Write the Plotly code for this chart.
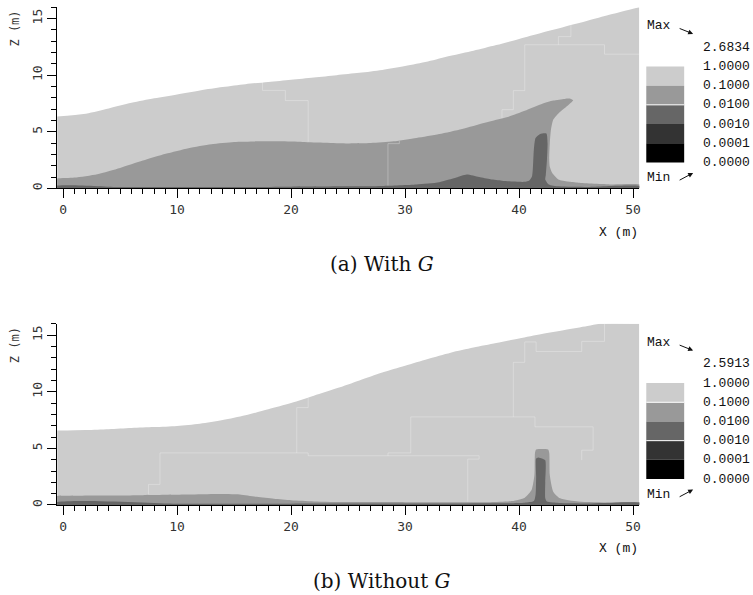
import plotly.graph_objects as go

# ---------------- data ----------------
X_RANGE = [-0.52, 50.55]
Z_RANGE = [0, 16]
X_TICKS = [0, 10, 20, 30, 40, 50]
Z_TICKS = [0, 5, 10, 15]

LEVEL_COLORS = ["#cccccc", "#999999", "#666666", "#333333", "#000000"]
LABELS_A = ["2.6834", "1.0000", "0.1000", "0.0100", "0.0010", "0.0001", "0.0000"]
LABELS_B = ["2.5913", "1.0000", "0.1000", "0.0100", "0.0010", "0.0001", "0.0000"]
SEPARATORS_A = [2]
SEPARATORS_B = [1, 3]
CAPTION_A = "(a) With <i>G</i>"
CAPTION_B = "(b) Without <i>G</i>"

# Panel (a): free surface (outer boundary of the >1.0 band)
A_SURF_X = [-0.52, 2, 4, 6, 8, 10, 12, 14, 16, 18, 20, 22, 24, 26, 28, 30, 32, 34, 36, 38, 40, 42, 44, 46, 48, 50.55]
A_SURF_Z = [6.35, 6.6, 7.05, 7.55, 7.95, 8.3, 8.65, 8.95, 9.2, 9.4, 9.6, 9.8, 10.0, 10.2, 10.45, 10.8, 11.2, 11.7, 12.15, 12.65, 13.2, 13.75, 14.28, 14.8, 15.35, 16.0]
# Panel (a): 0.1 contour (mid grey region, incl. the curling front)
A_MID_X = [-1.0, -1.0, -0.5, 1, 3, 5, 7, 9, 11, 13, 15, 17, 19, 21, 23, 25, 27, 29, 31, 33, 35, 37, 39, 40.5, 42, 43, 44, 44.5, 44.75,
           44.2, 43.5, 43.0, 42.8, 42.7, 42.65, 42.7, 42.9, 43.45, 44.3, 45.2, 48.1, 51.0, 51.0]
A_MID_Z = [-1.0, 0.88, 0.88, 0.95, 1.25, 1.8, 2.45, 3.05, 3.55, 3.9, 4.1, 4.15, 4.15, 4.1, 4.03, 3.97, 4.0, 4.15, 4.45, 4.8, 5.25, 5.8, 6.3, 6.85, 7.45, 7.75, 7.9, 7.92, 7.78,
           7.25, 6.66, 6.07, 5.2, 4.0, 2.55, 1.9, 1.38, 0.79, 0.6, 0.5, 0.35, 0.24, -1.0]
# Panel (a): 0.01 contour (dark bottom layer, hump and column)
A_DARK_X = [-1.0, -1.0, 5, 10, 15, 20, 25, 28, 31, 33, 34.5, 35.4, 36.5, 37.5, 38.5, 39.5, 40.5, 40.9, 41.15, 41.3, 41.45, 41.85, 42.4,
            42.5, 42.45, 42.35, 42.3, 42.6, 43.5, 46, 51.0, 51.0]
A_DARK_Z = [-1.0, 0.12, 0.12, 0.12, 0.12, 0.15, 0.18, 0.22, 0.35, 0.55, 0.95, 1.22, 1.0, 0.8, 0.68, 0.6, 0.58, 0.7, 1.1, 3.4, 4.45, 4.8, 4.84,
            4.0, 2.55, 1.2, 0.79, 0.35, 0.18, 0.12, 0.1, -1.0]
# Panel (a): faint mesh block boundaries
A_LINES = [
    ([17.5, 17.5, 19.5, 19.5, 21.5, 21.5], [9.4, 8.65, 8.65, 7.75, 7.75, 4.12]),
    ([29.5, 29.5, 28.5, 28.5], [4.2, 3.95, 3.95, 0.25]),
    ([44.55, 44.55, 43.45, 43.45, 40.5, 40.5, 39.5, 39.5, 38.5, 38.5], [14.42, 13.4, 13.4, 12.68, 12.68, 8.63, 8.63, 6.95, 6.95, 6.2]),
    ([43.45, 47.5, 47.5, 50.55], [12.68, 12.68, 11.85, 11.85]),
]

# Panel (b)
B_SURF_X = [-0.52, 2, 4, 6, 8, 10, 12, 14, 16, 18, 20, 22, 24, 26, 28, 30, 32, 34, 36, 38, 40, 42, 44, 46, 47.1, 50.55]
B_SURF_Z = [6.57, 6.62, 6.7, 6.8, 6.88, 6.98, 7.18, 7.5, 7.92, 8.45, 9.0, 9.65, 10.3, 11.0, 11.7, 12.3, 12.9, 13.45, 13.9, 14.3, 14.7, 15.1, 15.45, 15.8, 16.0, 16.0]
B_MID_X = [-1.0, -1.0, -0.5, 3, 7, 11, 13.5, 15.5, 17, 18.5, 20, 22, 25, 30, 35, 37.5, 39.4, 40.5, 41.1, 41.35, 41.4, 41.5, 42.0, 42.55,
           42.65, 42.7, 43.0, 43.6, 45.2, 48, 51.0, 51.0]
B_MID_Z = [-1.0, 0.8, 0.8, 0.83, 0.87, 0.92, 0.97, 0.93, 0.72, 0.55, 0.42, 0.32, 0.26, 0.25, 0.25, 0.25, 0.35, 0.65, 1.32, 2.64, 4.6, 4.9, 4.95, 4.9,
           4.6, 2.64, 1.18, 0.59, 0.3, 0.2, 0.15, -1.0]
B_DARK_X = [-1.0, -1.0, 10, 20, 30, 38, 40.5, 41.3, 41.45, 41.5, 41.5, 41.7, 42.0, 42.3, 42.3, 42.3, 42.45, 43.5, 46, 51.0, 51.0]
B_DARK_Z = [-1.0, 0.12, 0.12, 0.12, 0.13, 0.15, 0.2, 0.35, 0.9, 2.5, 4.1, 4.2, 4.1, 3.95, 2.0, 0.6, 0.3, 0.18, 0.14, 0.1, -1.0]
B_LINES = [
    ([7.5, 7.5, 8.5, 8.5, 21.5, 21.5, 28.5, 28.5, 30.5, 30.5, 41.4, 41.4, 46.5, 46.5, 45.5, 45.5],
     [0.9, 1.82, 1.82, 4.6, 4.6, 4.35, 4.35, 4.6, 4.6, 7.78, 7.78, 6.9, 6.9, 4.84, 4.84, 3.96]),
    ([20.5, 20.5, 21.5, 21.5], [4.6, 8.6, 8.6, 9.45]),
    ([28.5, 36.5, 36.5, 35.5, 35.5], [4.35, 4.35, 4.05, 4.05, 0.3]),
    ([39.5, 39.5, 40.5, 40.5, 41.5, 41.5, 45.5, 45.5, 47.5, 47.5], [7.78, 12.6, 12.6, 14.4, 14.4, 13.56, 13.56, 14.45, 14.45, 16.0]),
]

# ---------------- layout helpers ----------------
W, H = 753, 595
def px(xp):
    return xp / W
def py(yp):
    return 1 - yp / H

PANEL_SHIFT = 317.7
X_DOMAIN = [px(57.3), px(641.0)]
Y_DOMAINS = [[py(189.0), py(7.2)], [py(189.0 + PANEL_SHIFT), py(7.2 + PANEL_SHIFT)]]

fig = go.Figure()

def add_panel(i, surf_x, surf_z, mid_x, mid_z, dark_x, dark_z, lines):
    xa = "x" if i == 0 else "x2"
    ya = "y" if i == 0 else "y2"
    common = dict(xaxis=xa, yaxis=ya, hoverinfo="skip", showlegend=False, mode="lines")
    fig.add_trace(go.Scatter(x=surf_x, y=surf_z, fill="tozeroy", fillcolor=LEVEL_COLORS[0],
                             line=dict(width=0, shape="spline", smoothing=0.8), **common))
    fig.add_trace(go.Scatter(x=mid_x, y=mid_z, fill="toself", fillcolor=LEVEL_COLORS[1],
                             line=dict(width=0, shape="spline", smoothing=0.6), **common))
    fig.add_trace(go.Scatter(x=dark_x, y=dark_z, fill="toself", fillcolor=LEVEL_COLORS[2],
                             line=dict(width=0, shape="spline", smoothing=0.6), **common))
    for lx, lz in lines:
        fig.add_trace(go.Scatter(x=lx, y=lz, line=dict(width=1, color="rgba(255,255,255,0.28)"), **common))

add_panel(0, A_SURF_X, A_SURF_Z, A_MID_X, A_MID_Z, A_DARK_X, A_DARK_Z, A_LINES)
add_panel(1, B_SURF_X, B_SURF_Z, B_MID_X, B_MID_Z, B_DARK_X, B_DARK_Z, B_LINES)

tickfont = dict(family="DejaVu Sans Mono", size=13, color="#333")
def xaxis(anchor):
    return dict(domain=X_DOMAIN, anchor=anchor, range=X_RANGE, tickvals=X_TICKS, ticks="outside",
                ticklen=9, tickwidth=1, tickcolor="black", showline=True, linecolor="black", linewidth=1,
                showgrid=False, zeroline=False, tickfont=tickfont,
                minor=dict(ticks="outside", ticklen=5, tickwidth=1, tickcolor="black", dtick=1, tick0=0, showgrid=False))
def yaxis(anchor, dom):
    return dict(domain=dom, anchor=anchor, range=Z_RANGE, tickvals=Z_TICKS, ticks="outside",
                ticklen=9, tickwidth=1, tickcolor="black", showline=True, linecolor="black", linewidth=1,
                showgrid=False, zeroline=False, tickfont=tickfont, tickangle=-90,
                minor=dict(ticks="outside", ticklen=5, tickwidth=1, tickcolor="black", dtick=1, tick0=0, showgrid=False))

shapes = []
annotations = []
mono = dict(family="Liberation Mono", size=13, color="#111")
for i, (labels, seps, caption) in enumerate([(LABELS_A, SEPARATORS_A, CAPTION_A), (LABELS_B, SEPARATORS_B, CAPTION_B)]):
    off = i * PANEL_SHIFT
    box_top = 66.7 + off
    step = 19.25
    for k, col in enumerate(LEVEL_COLORS):
        shapes.append(dict(type="rect", xref="paper", yref="paper", x0=px(648), x1=px(686),
                           y0=py(box_top + k * step), y1=py(box_top + (k + 1) * step),
                           fillcolor=col, line=dict(width=0), layer="above"))
    for s in seps:
        shapes.append(dict(type="line", xref="paper", yref="paper", x0=px(648), x1=px(686),
                           y0=py(box_top + s * step), y1=py(box_top + s * step),
                           line=dict(color="white", width=1), layer="above"))
    for k, lab in enumerate(labels):
        annotations.append(dict(text=lab, xref="paper", yref="paper", x=px(703), y=py(box_top + (k - 1) * step),
                                xanchor="left", yanchor="middle", showarrow=False, font=mono))
    annotations.append(dict(text="Max", xref="paper", yref="paper", x=px(647), y=py(26 + off),
                            xanchor="left", yanchor="middle", showarrow=False, font=mono))
    annotations.append(dict(text="Min", xref="paper", yref="paper", x=px(647), y=py(178.5 + off),
                            xanchor="left", yanchor="middle", showarrow=False, font=mono))
    annotations.append(dict(text="", xref="paper", yref="paper", x=px(695), y=py(34 + off), ax=-15, ay=-6,
                            showarrow=True, arrowhead=2, arrowsize=1, arrowwidth=1, arrowcolor="#111"))
    annotations.append(dict(text="", xref="paper", yref="paper", x=px(695), y=py(173.5 + off), ax=-15, ay=8,
                            showarrow=True, arrowhead=2, arrowsize=1, arrowwidth=1, arrowcolor="#111"))
    annotations.append(dict(text="X (m)", xref="paper", yref="paper", x=px(620), y=py(233 + off),
                            xanchor="center", yanchor="middle", showarrow=False, font=mono))
    annotations.append(dict(text="Z (m)", xref="paper", yref="paper", x=px(14.7), y=py(29 + off), textangle=-90,
                            xanchor="center", yanchor="middle", showarrow=False,
                            font=dict(family="DejaVu Sans Mono", size=12, color="#333")))
    annotations.append(dict(text=caption, xref="paper", yref="paper", x=px(383.5), y=py(265 + off),
                            xanchor="center", yanchor="middle", showarrow=False,
                            font=dict(family="DejaVu Serif", size=20, color="#111")))

fig.update_layout(
    width=W, height=H, margin=dict(l=0, r=0, t=0, b=0),
    paper_bgcolor="white", plot_bgcolor="white",
    xaxis=xaxis("y"), yaxis=yaxis("x", Y_DOMAINS[0]),
    xaxis2=xaxis("y2"), yaxis2=yaxis("x2", Y_DOMAINS[1]),
    shapes=shapes, annotations=annotations, showlegend=False,
)

fig.write_html("out.html")
